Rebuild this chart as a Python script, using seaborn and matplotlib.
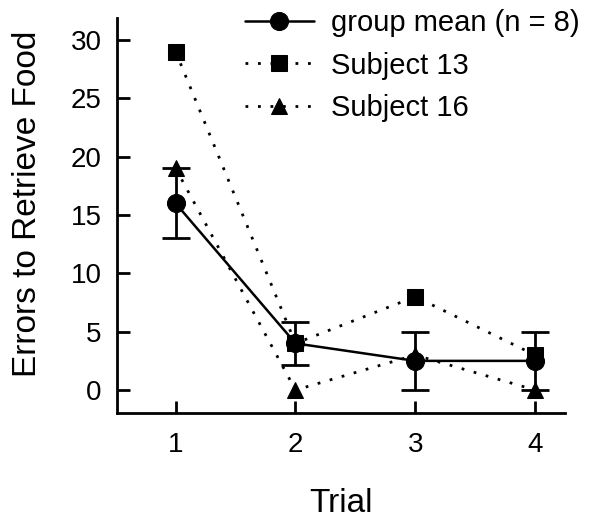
import matplotlib
matplotlib.use("Agg")
import matplotlib.pyplot as plt
import seaborn as sns
import pandas as pd

trials = [1, 2, 3, 4]
group_mean = [16, 4, 2.5, 2.5]
group_err = [3, 1.85, 2.5, 2.5]
subject13 = [29, 4, 8, 3]
subject16 = [19, 0, 3, 0]
labels = ["group mean (n = 8)", "Subject 13", "Subject 16"]

sns.set_theme(style="ticks")
plt.rcParams['font.family'] = ['Liberation Sans', 'DejaVu Sans']
for k in ["text.color", "axes.labelcolor", "xtick.color", "ytick.color", "axes.edgecolor"]:
    plt.rcParams[k] = "black"

fig = plt.figure(figsize=(5.98, 5.23), dpi=100)
ax = fig.add_axes([117/598, 1-413/523, (565-117)/598, (413-18)/523])

df13 = pd.DataFrame({"Trial": trials, "v": subject13})
df16 = pd.DataFrame({"Trial": trials, "v": subject16})
dfm = pd.DataFrame({"Trial": trials, "v": group_mean})

sns.lineplot(data=df13, x="Trial", y="v", ax=ax, color="black", linestyle=(0, (1, 3.5)),
             lw=2, marker="s", markersize=11, markeredgecolor="black", label=labels[1], zorder=2)
sns.lineplot(data=df16, x="Trial", y="v", ax=ax, color="black", linestyle=(0, (1, 3.5)),
             lw=2, marker="^", markersize=12, markeredgecolor="black", label=labels[2], zorder=2)
ax.errorbar(trials, group_mean, yerr=group_err, fmt="none", ecolor="black",
            elinewidth=2, capsize=10, capthick=2, zorder=3)
sns.lineplot(data=dfm, x="Trial", y="v", ax=ax, color="black", lw=1.8,
             marker="o", markersize=13, markeredgecolor="black", label=labels[0], zorder=4)

ax.set_xlim(0.51, 4.25)
ax.set_ylim(-1.97, 31.9)
ax.set_xticks(trials)
ax.set_yticks([0, 5, 10, 15, 20, 25, 30])
ax.tick_params(direction="in", length=9, width=2, labelsize=20)
ax.tick_params(axis="y", pad=11)
ax.tick_params(axis="x", pad=14)
for s in ["top", "right"]:
    ax.spines[s].set_visible(False)
for s in ["left", "bottom"]:
    ax.spines[s].set_linewidth(2)
ax.set_xlabel("Trial", fontsize=24)
ax.xaxis.set_label_coords(0.5, -0.19)
ax.set_ylabel("Errors to Retrieve Food", fontsize=24)
ax.yaxis.set_label_coords(-0.165, 0.529)

h, l = ax.get_legend_handles_labels()
order = [l.index(x) for x in labels]
leg = ax.legend([h[i] for i in order], [l[i] for i in order], loc="upper left",
                bbox_to_anchor=(245/598, 1-9/523), bbox_transform=fig.transFigure,
                frameon=False, fontsize=21, borderpad=0, borderaxespad=0,
                handlelength=2.35, labelspacing=0.5, handletextpad=0.6)

fig.savefig("out.png", dpi=100)
